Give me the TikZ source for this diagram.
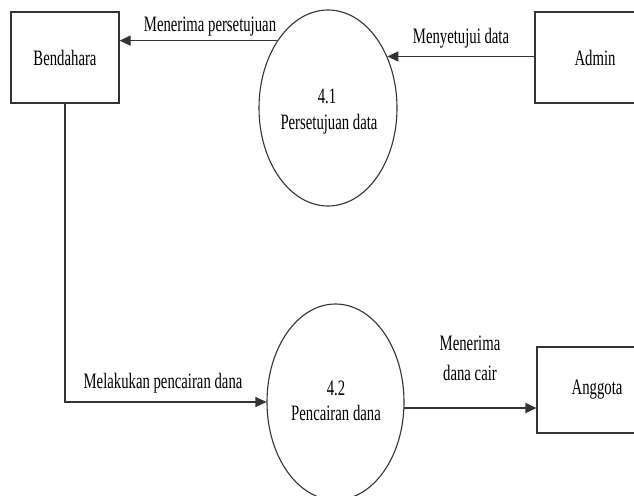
\documentclass[tikz,border=0pt]{standalone}
\usepackage{fontspec}
\setmainfont{Liberation Serif}[FakeStretch=0.67]
\usetikzlibrary{arrows.meta,shapes.geometric}
\tikzset{
  lbl/.style={anchor=base,inner sep=0pt,font=\fontsize{22bp}{29bp}\selectfont},
  entity/.style={draw=black!80,line width=1.1bp,rectangle,inner sep=0pt,font=\fontsize{22bp}{29bp}\selectfont},
  proc/.style={draw=black!80,line width=1.1bp,ellipse,inner sep=0pt,minimum width=138bp,minimum height=196bp},
  flow/.style={draw=black!80,line width=1.1bp,-{Triangle[length=11bp,width=10bp]}}
}
\begin{document}
\begin{tikzpicture}[x=1bp,y=-1bp]
\clip (0,0) rectangle (634,496);
\fill[white] (0,0) rectangle (634,496);
% entities
\node[entity,minimum width=108bp,minimum height=91bp] (bend) at (65,57.5) {Bendahara};
\node[entity,minimum width=120bp,minimum height=91bp] (admin) at (595,57.5) {Admin};
\node[entity,minimum width=120bp,minimum height=86bp] (angg) at (597,390) {Anggota};
% processes
\node[proc] (p41) at (328,108) {};
\node[proc,minimum width=137bp] (p42) at (335.5,402) {};
\node[lbl] (t41a) at (327,104) {4.1};
\node[lbl] (t41b) at (329,130) {Persetujuan data};
\node[lbl] (t42a) at (336,395) {4.2};
\node[lbl] (t42b) at (336,420) {Pencairan dana};
% flows
\draw[flow] (p41.127.7) -- (bend.east |- p41.127.7);
\draw[flow] (admin.west |- p41.41.6) -- (p41.41.6);
\draw[flow] (bend.south) |- (p42.west);
\draw[flow] (p42.-5) -- (angg.west |- p42.-5);
% flow labels
\node[lbl] (l1) at (210,32) {Menerima persetujuan};
\node[lbl] (l2) at (461,44) {Menyetujui data};
\node[lbl] (l3) at (163,388) {Melakukan pencairan dana};
\node[lbl] (l4a) at (470,350) {Menerima};
\node[lbl] (l4b) at (470,380) {dana cair};
\end{tikzpicture}
\end{document}
